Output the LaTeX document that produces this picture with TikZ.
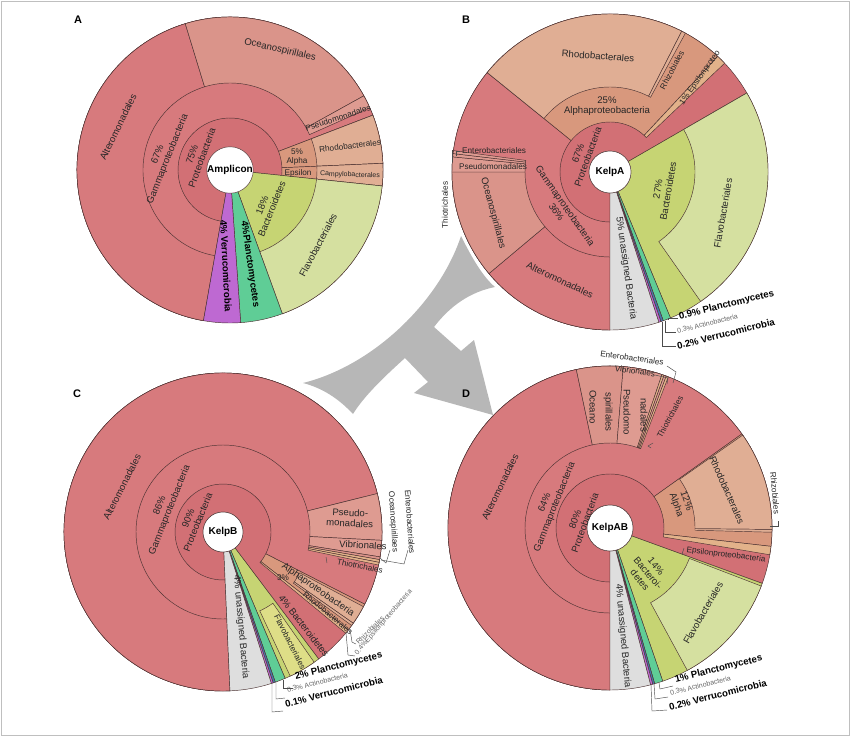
\documentclass[tikz,border=0pt]{standalone}
\usepackage{fontspec}
\setmainfont{Liberation Sans}
\definecolor{prot}{RGB}{210,112,117}
\definecolor{gam}{RGB}{215,122,125}
\definecolor{ocean}{RGB}{218,148,138}
\definecolor{pseudo}{RGB}{222,155,145}
\definecolor{alpha}{RGB}{216,152,125}
\definecolor{rhodo}{RGB}{224,174,148}
\definecolor{eps}{RGB}{226,178,138}
\definecolor{bact}{RGB}{198,212,115}
\definecolor{flavo}{RGB}{213,224,160}
\definecolor{flavoC}{RGB}{222,222,135}
\definecolor{planct}{RGB}{95,205,150}
\definecolor{verr}{RGB}{190,105,210}
\definecolor{actino}{RGB}{70,120,170}
\definecolor{unas}{RGB}{222,222,222}
\definecolor{arrowgray}{RGB}{183,183,183}
\definecolor{edge}{RGB}{75,50,50}
\newcommand\kseg[5]{\filldraw[wdg,#5] (#3-90:#1) arc[start angle=#3-90,end angle=#4-90,radius=#1] -- (#4-90:#2) arc[start angle=#4-90,end angle=#3-90,radius=#2] -- cycle;}
\tikzset{
  wdg/.style={draw=edge,line width=0.45pt},
  hub/.style={circle,fill=white,draw=edge,line width=0.45pt,inner sep=0pt,font=\fontsize{10}{11}\selectfont\bfseries},
  lab/.style={font=\fontsize{9.6}{10.6}\selectfont,align=center,inner sep=0pt,text=black!85},
  sml/.style={font=\fontsize{8.2}{9}\selectfont,align=center,inner sep=0pt,text=black!85},
  tiny/.style={font=\fontsize{7}{7.5}\selectfont,inner sep=0pt,text=black!60},
  bold/.style={font=\fontsize{9.6}{10.6}\selectfont\bfseries,inner sep=0pt},
  brk/.style={draw=black!70,line width=0.45pt},
  panel/.style={font=\fontsize{11}{12}\selectfont\bfseries,inner sep=0pt},
}
\begin{document}
\begin{tikzpicture}[x=1pt,y=-1pt]
\useasboundingbox (0,0) rectangle (850,736);
\draw[black!25,line width=0.8pt] (1,1) rectangle (849,735);
% ================= A =================
\begin{scope}[shift={(230,170)}]
\kseg{22}{153}{190}{456}{fill=prot}
\kseg{52}{153}{190}{429}{fill=gam}
\kseg{87}{153}{190}{343}{fill=gam}
\kseg{87}{153}{343}{421}{fill=ocean}
\kseg{87}{153}{421}{426}{fill=pseudo}
\kseg{52}{153}{429}{447.5}{fill=alpha}
\kseg{87}{153}{429}{447.5}{fill=rhodo}
\kseg{52}{153}{447.5}{456}{fill=alpha}
\kseg{87}{153}{447.5}{456}{fill=rhodo}
\kseg{22}{153}{96}{160}{fill=bact}
\kseg{87}{153}{96}{160}{fill=flavo}
\kseg{22}{153}{160}{176}{fill=planct}
\kseg{22}{153}{176}{190}{fill=verr}
\node[hub,minimum size=44pt] (hA) at (0,0) {Amplicon};
\end{scope}
\node[lab,rotate=70] (a1) at (197,156) {75\%\\Proteobacteria};
\node[lab,rotate=68] (a2) at (163,157) {67\%\\Gammaproteobacteria};
\node[lab,rotate=64] (a3) at (118,127) {Alteromonadales};
\node[lab,rotate=-13] (a4) at (280,50) {Oceanospirillales};
\node[sml,rotate=18] (a5) at (338,118) {Pseudomonadales};
\node[sml,rotate=7] (a6) at (350,146) {Rhodobacterales};
\node[sml] (a7) at (297,157) {5\%\\Alpha};
\node[sml] (a8) at (298,173) {Epsilon};
\node[tiny,text=black!85,rotate=-2] (a9) at (350,175) {Campylobacterales};
\node[lab,rotate=68] (a10) at (267,207) {18\%\\Bacteroidetes};
\node[lab,rotate=62] (a11) at (318,245) {Flavobacteriales};
\node[bold,rotate=-82] (a12) at (250,264) {4\%Planctomycetes};
\node[bold,rotate=-87] (a13) at (226,266) {4\% Verrucomicrobia};
% ================= B =================
\begin{scope}[shift={(610,172)}]
\kseg{21}{158}{180}{420}{fill=prot}
\kseg{50}{158}{180}{309}{fill=gam}
\kseg{85}{158}{180}{230}{fill=gam}
\kseg{85}{158}{230}{270}{fill=ocean}
\kseg{85}{158}{270}{275.5}{fill=pseudo}
\kseg{85}{158}{275.5}{276.7}{fill=pseudo}
\kseg{85}{158}{276.7}{277.8}{fill=pseudo}
\kseg{50}{158}{309}{403}{fill=alpha}
\kseg{85}{158}{309}{387}{fill=rhodo}
\kseg{85}{158}{387}{388.5}{fill=rhodo}
\kseg{50}{158}{403}{406.5}{fill=eps}
\kseg{21}{158}{60}{157.5}{fill=bact}
\kseg{85}{158}{60}{145}{fill=flavo}
\kseg{21}{158}{157.5}{160.3}{fill=planct}
\kseg{21}{158}{160.3}{161.2}{fill=actino}
\kseg{21}{158}{161.2}{162}{fill=verr}
\kseg{21}{158}{162}{180}{fill=unas}
\node[hub,minimum size=42pt] (hB) at (0,0) {KelpA};
\end{scope}
\node[lab,rotate=70] (b1) at (583,155) {67\%\\Proteobacteria};
\node[lab,rotate=-55] (b2) at (561,209) {Gammaproteobacteria\\36\%};
\node[lab] (b3) at (607,106) {25\%\\Alphaproteobacteria};
\node[lab,rotate=-4] (b4) at (598,56) {Rhodobacterales};
\node[sml,rotate=62] (b5) at (672,70) {Rhizobiales};
\node[sml,rotate=55] (b6) at (700,78) {1\% Epsilonproteo};
\node[sml,anchor=west] (b7) at (462,151) {Enterobacteriales};
\node[sml] (b8) at (493,167) {Pseudomonadales};
\node[sml,rotate=90] (b9) at (445,205) {Thiotrichales};
\node[lab,rotate=-75] (b10) at (493,213) {Oceanospirillales};
\node[lab,rotate=-25] (b11) at (560,280) {Alteromonadales};
\node[lab,rotate=-82] (b12) at (626,268) {5\% unassigned Bacteria};
\node[lab,rotate=80] (b13) at (663,190) {27\%\\Bacteroidetes};
\node[lab,rotate=80] (b14) at (723,213) {Flavobacteriales};
\node[bold,anchor=west,rotate=14] (b15) at (679,317) {0.9\% Planctomycetes};
\node[tiny,anchor=west,rotate=14] (b16) at (677,331) {0.3\% Actinobacteria};
\node[bold,anchor=west,rotate=14] (b17) at (677,346) {0.2\% Verrucomicrobia};
\draw[brk] (b7.west) ++(-2,0) -- ++(-4,0) -- ++(0,5);
\draw[brk] (668,320) -- (668,318) -- (678,318);
\draw[brk] (665,321) -- (665,332) -- (676,332);
\draw[brk] (662,322) -- (662,346) -- (676,346);
\draw[brk] (452,150) -- (452,162);
% ================= C =================
\begin{scope}[shift={(223,532)}]
\kseg{20}{159}{177.5}{503}{fill=prot}
\kseg{48}{159}{177.5}{477}{fill=gam}
\kseg{87}{159}{177.5}{436}{fill=gam}
\kseg{87}{159}{436}{453}{fill=pseudo}
\kseg{87}{159}{453}{459}{fill=pseudo}
\kseg{87}{159}{459}{460}{fill=ocean}
\kseg{87}{159}{460}{461}{fill=eps}
\kseg{87}{159}{461}{462}{fill=eps}
\kseg{48}{159}{477}{488}{fill=alpha}
\kseg{87}{159}{478}{485}{fill=rhodo}
\kseg{87}{159}{485}{486}{fill=rhodo}
\kseg{48}{159}{488}{489.5}{fill=eps}
\kseg{20}{159}{143}{157}{fill=bact}
\kseg{87}{159}{145}{155}{fill=flavoC}
\kseg{20}{159}{157}{160.8}{fill=planct}
\kseg{20}{159}{160.8}{161.6}{fill=actino}
\kseg{20}{159}{161.6}{162.3}{fill=verr}
\kseg{20}{159}{162.3}{177.5}{fill=unas}
\node[hub,minimum size=40pt] (hC) at (0,0) {KelpB};
\end{scope}
\node[lab,rotate=68] (c1) at (193,520) {90\%\\Proteobacteria};
\node[lab,rotate=68] (c2) at (165,508) {86\%\\Gammaproteobacteria};
\node[lab,rotate=63] (c3) at (122,487) {Alteromonadales};
\node[lab,rotate=-3] (c4) at (350,518) {Pseudo-\\monadales};
\node[lab,rotate=-3] (c5) at (363,545) {Vibrionales};
\node[sml,rotate=-12] (c6) at (360,566) {Thiotrichales};
\node[sml,rotate=-86] (c7) at (393,522) {Oceanospirillaes};
\node[sml,rotate=-86] (c8) at (410,522) {Enterobacteriales};
\node[lab,rotate=-35] (c9) at (318,590) {Alphaproteobacteria};
\node[sml] (c10) at (283,578) {3\%};
\node[sml,rotate=-40] (c11) at (328,613) {Rhodobacterales};
\node[lab,rotate=-52] (c12) at (304,626) {4\% Bacteroidetes};
\node[sml,rotate=-63] (c13) at (290,642) {Flavobacteriales};
\node[tiny,anchor=west,rotate=45] (c14) at (357,643) {Rhizobiales};
\node[tiny,anchor=west,rotate=49] (c15) at (356,654) {0.4\%Epsilonproteobacteria};
\node[lab,rotate=-85] (c16) at (241,627) {4\% unassigned Bacteria};
\node[bold,anchor=west,rotate=14] (c17) at (295,677) {2\% Planctomycetes};
\node[tiny,anchor=west,rotate=14] (c18) at (287,690) {0.3\% Actinobacteria};
\node[bold,anchor=west,rotate=14] (c19) at (285,704) {0.1\% Verrucomicrobia};
\draw[brk] (283,680) -- (283,688) -- (293,688);
\draw[brk] (276,682) -- (276,699) -- (285,698);
\draw[brk] (272,683) -- (272,712) -- (283,711);
\draw[brk] (350,629) -- (352,642) -- (356,644);
\draw[brk] (346,633) -- (348,655) -- (355,656);
\draw[brk] (380,558) -- (386,563) -- (390,550);
\draw[brk] (381,560) -- (404,564) -- (408,550);
\draw[brk] (326,557) -- (327,563);
% ================= D =================
\begin{scope}[shift={(610,528)}]
\kseg{23}{162}{180}{470}{fill=prot}
\kseg{54}{162}{180}{414.5}{fill=gam}
\kseg{85}{162}{180}{348}{fill=gam}
\kseg{85}{162}{348}{364.7}{fill=ocean}
\kseg{85}{162}{364.7}{378.7}{fill=pseudo}
\kseg{85}{162}{378.7}{379.5}{fill=eps}
\kseg{85}{162}{379.5}{380.3}{fill=pseudo}
\kseg{85}{162}{380.3}{381.1}{fill=eps}
\kseg{54}{162}{414.5}{456.5}{fill=alpha}
\kseg{85}{162}{415}{450.5}{fill=rhodo}
\kseg{85}{162}{450.5}{451.5}{fill=rhodo}
\kseg{54}{162}{456.5}{459.5}{fill=eps}
\kseg{23}{162}{110}{161}{fill=bact}
\kseg{85}{162}{111}{151.5}{fill=flavo}
\kseg{23}{162}{161}{164}{fill=planct}
\kseg{23}{162}{164}{164.7}{fill=actino}
\kseg{23}{162}{164.7}{165.5}{fill=verr}
\kseg{23}{162}{165.5}{180}{fill=unas}
\node[hub,minimum size=46pt] (hD) at (0,0) {KelpAB};
\end{scope}
\node[lab,rotate=70] (d1) at (580,521) {80\%\\Proteobacteria};
\node[lab,rotate=68] (d2) at (550,505) {64\%\\Gammaproteobacteria};
\node[lab,rotate=64] (d3) at (500,487) {Alteromonadales};
\node[lab,rotate=-90] (d4) at (593,407) {Oceano};
\node[lab,rotate=-90] (d5) at (608,412) {spirillales};
\node[lab,rotate=-90] (d6) at (627,412) {Pseudomo};
\node[lab,rotate=-90] (d7) at (644,415) {nadales};
\node[sml,rotate=-8] (d8) at (632,358) {Enterobacteriales};
\node[sml,rotate=-8] (d9) at (635,371) {Vibrionales};
\node[sml,rotate=62] (d10) at (670,417) {Thiotrichales};
\node[lab,rotate=-70] (d11) at (681,503) {12\%\\Alpha};
\node[lab,rotate=-66] (d12) at (727,490) {Rhodobacterales};
\node[sml,rotate=-85] (d13) at (775,493) {Rhizobiales};
\node[sml,rotate=-7] (d14) at (726,555) {Epsilonproteobacteria};
\node[lab,rotate=-50] (d15) at (648,573) {14\%\\Bacteroi-\\detes};
\node[lab,rotate=60] (d16) at (703,613) {Flavobacteriales};
\node[lab,rotate=-85] (d17) at (623,636) {4\% unassigned Bacteria};
\node[bold,anchor=west,rotate=14] (d18) at (675,680) {1\% Planctomycetes};
\node[tiny,anchor=west,rotate=14] (d19) at (670,693) {0.3\% Actinobacteria};
\node[bold,anchor=west,rotate=14] (d20) at (669,707) {0.2\% Verrucomicrobia};
\draw[brk] (659,683) -- (660,689) -- (673,686);
\draw[brk] (654,684) -- (655,699) -- (668,697);
\draw[brk] (651,685) -- (652,711) -- (667,710);
\draw[brk] (667,366) -- (676,372) -- (673,383);
\draw[brk] (655,375) -- (668,378) -- (667,384);
\draw[brk] (653,443) -- (648,446) -- (651,448);
\draw[brk] (770,526) -- (778,526) -- (778,521);
\draw[brk] (684,548) -- (682,554) -- (687,554);
% ================= arrow =================
\fill[arrowgray] (461,236) .. controls (472,258) and (483,277) .. (495,287)
  .. controls (470,292) and (450,306) .. (434,327)
  -- (461,351) -- (474,340) -- (493,415) -- (414,393) -- (428,382) -- (405,358)
  .. controls (385,376) and (364,396) .. (353,414)
  .. controls (338,398) and (322,388) .. (303,383)
  .. controls (375,365) and (440,300) .. (461,236) -- cycle;
% ================= panel letters =================
\node[panel] (pA) at (78,20) {A};
\node[panel] (pB) at (466,20) {B};
\node[panel] (pC) at (77,394) {C};
\node[panel] (pD) at (466,394) {D};
\end{tikzpicture}
\end{document}
